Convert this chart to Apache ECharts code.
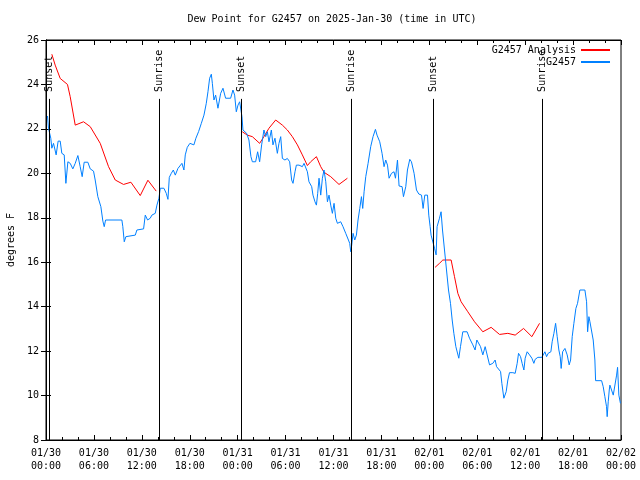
<!DOCTYPE html>
<html><head><meta charset="utf-8">
<script src="https://cdn.jsdelivr.net/npm/echarts@6/dist/echarts.min.js"></script>
<style>html,body{margin:0;padding:0;background:#fff}#c{width:640px;height:480px}</style>
</head><body><div id="c"></div>
<script>
const titleText = 'Dew Point for G2457 on 2025-Jan-30 (time in UTC)';
const xTickLabels = ['01/30\n00:00','01/30\n06:00','01/30\n12:00','01/30\n18:00',
  '01/31\n00:00','01/31\n06:00','01/31\n12:00','01/31\n18:00',
  '02/01\n00:00','02/01\n06:00','02/01\n12:00','02/01\n18:00','02/02\n00:00'];
const yMin = 8, yMax = 26, yStep = 2;

// observed dew point (hours since 01/30 00:00 UTC)
const obsHours = [0.19,0.31,0.60,0.73,0.94,1.27,1.52,1.78,1.98,2.28,2.49,2.74,3.03,3.36,3.66,3.99,4.28,4.53,4.78,5.24,5.54,5.95,6.16,6.49,6.87,7.12,7.29,7.46,9.50,9.62,9.80,10.00,11.18,11.38,12.22,12.43,12.72,13.05,13.26,13.68,13.89,14.14,14.31,14.51,14.76,15.06,15.27,15.44,15.69,15.94,16.19,16.52,17.02,17.27,17.44,17.69,18.02,18.52,18.77,19.11,19.45,19.78,20.07,20.28,20.49,20.70,20.83,21.03,21.24,21.53,21.87,22.16,22.49,23.12,23.41,23.62,23.83,24.04,24.25,24.37,24.54,24.66,24.91,25.12,25.41,25.66,25.84,26.25,26.50,26.75,27.00,27.29,27.51,27.72,27.92,28.22,28.42,28.67,28.97,29.17,29.39,29.60,29.92,30.22,30.51,30.76,30.93,31.18,31.35,31.68,31.93,32.10,32.31,32.52,32.73,32.93,33.27,33.43,33.68,33.86,34.02,34.19,34.40,34.61,34.81,35.03,35.24,35.44,35.65,35.86,36.07,36.28,36.49,36.90,37.19,37.53,37.87,38.03,38.16,38.28,38.45,38.66,38.87,39.07,39.29,39.50,39.66,39.83,40.04,40.33,40.66,40.95,41.25,41.45,41.79,42.08,42.33,42.54,42.76,42.96,43.26,43.58,43.76,44.01,44.21,44.59,44.76,45.05,45.26,45.55,45.76,46.09,46.39,46.68,47.02,47.22,47.43,47.77,47.93,48.10,48.22,48.43,48.65,48.85,48.97,49.27,49.47,49.65,49.90,50.15,50.40,50.65,50.86,51.07,51.32,51.57,51.69,51.90,52.19,52.73,53.03,53.45,53.73,53.95,54.16,54.41,54.70,54.99,55.24,55.54,55.95,56.24,56.42,56.67,56.92,57.08,57.33,57.62,57.83,58.04,58.46,58.75,59.00,59.17,59.42,59.62,59.84,60.00,60.25,60.55,60.84,61.09,61.25,61.59,62.09,62.47,62.68,62.88,63.22,63.38,63.60,63.81,64.01,64.22,64.39,64.51,64.69,64.98,65.26,65.51,65.69,65.89,66.10,66.35,66.56,66.85,67.48,67.69,67.82,67.98,68.11,68.32,68.52,68.73,68.82,69.57,69.77,69.98,70.19,70.27,70.40,70.53,70.61,70.83,71.03,71.24,71.45,71.57,71.73,71.85,71.93];
const obsDew = [22.58,22.03,21.58,21.13,21.35,20.83,21.45,21.45,20.90,20.83,19.55,20.52,20.45,20.20,20.45,20.80,20.30,19.85,20.50,20.50,20.20,20.10,19.70,18.95,18.50,17.85,17.60,17.90,17.90,17.60,16.92,17.15,17.22,17.45,17.50,18.12,17.90,17.98,18.12,18.20,18.57,18.88,19.33,19.40,19.33,19.10,18.83,19.82,20.00,20.15,19.92,20.22,20.45,20.15,20.83,21.17,21.35,21.28,21.58,21.88,22.25,22.62,23.15,23.67,24.28,24.46,24.05,23.30,23.52,22.93,23.60,23.83,23.38,23.38,23.75,23.52,22.77,23.07,23.22,23.30,22.55,21.95,22.03,21.80,21.50,20.75,20.52,20.52,20.97,20.52,21.28,21.95,21.65,21.87,21.42,21.95,21.28,21.58,20.90,21.35,21.65,20.67,20.60,20.67,20.52,19.70,19.55,20.07,20.37,20.37,20.45,20.30,20.45,20.52,20.07,19.62,19.40,19.02,18.72,18.57,19.10,19.78,19.02,19.78,20.15,19.62,18.72,19.02,18.57,18.20,18.65,17.98,17.75,17.82,17.60,17.30,17.00,16.85,16.47,16.77,17.30,17.00,17.22,17.90,18.42,18.95,18.42,19.17,19.85,20.45,21.20,21.65,21.98,21.72,21.42,20.90,20.30,20.60,20.37,19.78,20.00,20.07,19.78,20.60,19.43,19.40,18.95,19.40,20.15,20.63,20.52,20.00,19.25,19.07,19.02,18.42,19.02,19.02,18.12,17.60,17.22,17.30,16.63,16.33,17.60,17.98,18.27,17.45,16.55,15.65,14.75,14.15,13.40,12.80,12.20,12.20,11.68,12.20,12.87,12.87,12.58,12.28,12.05,12.50,12.58,12.20,11.83,12.20,12.28,11.38,11.45,11.60,11.30,11.38,11.08,10.55,9.88,10.17,10.70,11.03,11.03,11.00,11.45,11.90,11.75,11.45,11.15,11.68,11.97,11.83,11.68,11.45,11.63,11.72,11.72,11.97,11.75,11.90,11.97,12.42,12.80,13.25,12.65,12.05,11.75,11.22,11.97,12.12,11.83,11.38,11.60,12.65,13.25,13.92,14.15,14.75,14.75,14.22,12.87,13.55,13.32,13.32,12.50,11.60,10.67,10.67,10.40,9.95,9.50,9.05,9.72,10.25,10.47,10.47,10.02,10.02,10.92,11.27,10.02,10.10,9.65];

// analysis (three night segments; null = gap)
const anaHours = [0.73,1.15,1.78,2.69,3.03,3.66,4.70,5.54,6.79,7.83,8.67,9.71,10.63,11.80,12.76,13.80, 19.0,
  24.58,25.21,25.84,26.75,27.29,27.92,28.76,29.60,30.22,30.85,31.48,32.10,32.73,33.14,33.86,34.40,34.81,35.65,36.69,37.74, 43.0,
  48.72,49.27,49.69,50.73,51.15,51.57,51.98,52.82,53.66,54.70,55.74,56.79,57.83,58.75,59.80,60.84,61.80];
const anaDew = [25.36,24.87,24.27,24.00,23.45,22.17,22.32,22.10,21.35,20.30,19.70,19.50,19.60,19.00,19.69,19.20, null,
  21.87,21.72,21.65,21.35,21.65,22.03,22.40,22.17,21.95,21.65,21.28,20.83,20.35,20.52,20.75,20.30,20.05,19.85,19.50,19.78, null,
  15.77,15.95,16.10,16.10,15.35,14.60,14.22,13.77,13.32,12.87,13.07,12.75,12.80,12.72,13.02,12.65,13.25];

const sunHours = [0.45, 14.14, 24.41, 38.20, 48.50, 62.17];
const sunLabels = ['Sunset','Sunrise','Sunset','Sunrise','Sunset','Sunrise'];
const sunLineTop = 23.35;

const FONT = 'DejaVu Sans Mono';
const txt = {fontFamily: FONT, fontSize: 10, color: '#000'};

const chart = echarts.init(document.getElementById('c'), null, {renderer: 'canvas'});
const zip = (a, b) => a.map((h, i) => [h, b[i]]);

const xCommon = {
  type: 'value', min: 0, max: 72, interval: 6,
  axisLine: {show: true, lineStyle: {color: '#000', width: 1}},
  axisTick: {show: true, inside: true, length: 5, lineStyle: {color: '#000'}},
  minorTick: {show: true, splitNumber: 3, length: 3, lineStyle: {color: '#000'}},
  splitLine: {show: false}, minorSplitLine: {show: false}
};
const yCommon = {
  type: 'value', min: yMin, max: yMax, interval: yStep,
  axisLine: {show: true, lineStyle: {color: '#000', width: 1}},
  axisTick: {show: true, inside: true, length: 5, lineStyle: {color: '#000'}},
  splitLine: {show: false}
};

chart.setOption({
  animation: false,
  backgroundColor: '#fff',
  title: {text: titleText, left: 332, top: 14, padding: 0, textAlign: 'center',
    textStyle: Object.assign({fontWeight: 'normal'}, txt)},
  grid: {left: 46, right: 19, top: 40, bottom: 40, show: true, borderColor: '#000', borderWidth: 1,
    containLabel: false, outerBoundsMode: 'none'},
  legend: [
    {data: ['G2457 Analysis'], right: 30, top: 45, padding: 0, align: 'right', icon: 'rect',
     itemWidth: 29, itemHeight: 2, selectedMode: false, textStyle: txt},
    {data: ['G2457'], right: 30, top: 57, padding: 0, align: 'right', icon: 'rect',
     itemWidth: 29, itemHeight: 2, selectedMode: false, textStyle: txt}
  ],
  xAxis: [
    Object.assign({}, xCommon, {position: 'bottom',
      axisLabel: Object.assign({margin: 7, lineHeight: 13,
        formatter: v => xTickLabels[Math.round(v / 6)]}, txt)}),
    Object.assign({}, xCommon, {position: 'top', axisLabel: {show: false}})
  ],
  yAxis: [
    Object.assign({}, yCommon, {position: 'left', name: 'degrees F', nameLocation: 'middle',
      nameGap: 30, nameTextStyle: txt, axisLabel: Object.assign({margin: 7}, txt)}),
    Object.assign({}, yCommon, {position: 'right', axisLabel: {show: false}})
  ],
  series: [
    {
      type: 'scatter', name: 'sun', data: sunHours.map(h => [h, sunLineTop]),
      symbolSize: 0, silent: true, z: 1, itemStyle: {opacity: 1},
      label: Object.assign({show: true, opacity: 1, position: 'top', distance: 7, rotate: 90,
        align: 'left', verticalAlign: 'middle',
        formatter: p => sunLabels[p.dataIndex]}, txt),
      markLine: {
        silent: true, symbol: ['none', 'none'], label: {show: false},
        lineStyle: {color: '#000', width: 1, type: 'solid', opacity: 1},
        data: sunHours.map(h => [{coord: [h, sunLineTop]}, {coord: [h, yMin]}])
      }
    },
    {
      type: 'line', name: 'G2457 Analysis', data: zip(anaHours, anaDew),
      symbol: 'none', connectNulls: false, z: 3,
      lineStyle: {color: '#ff0000', width: 1}, itemStyle: {color: '#ff0000'}
    },
    {
      type: 'line', name: 'G2457', data: zip(obsHours, obsDew),
      symbol: 'none', z: 4,
      lineStyle: {color: '#0080ff', width: 1}, itemStyle: {color: '#0080ff'}
    }
  ]
});
</script>
</body></html>
